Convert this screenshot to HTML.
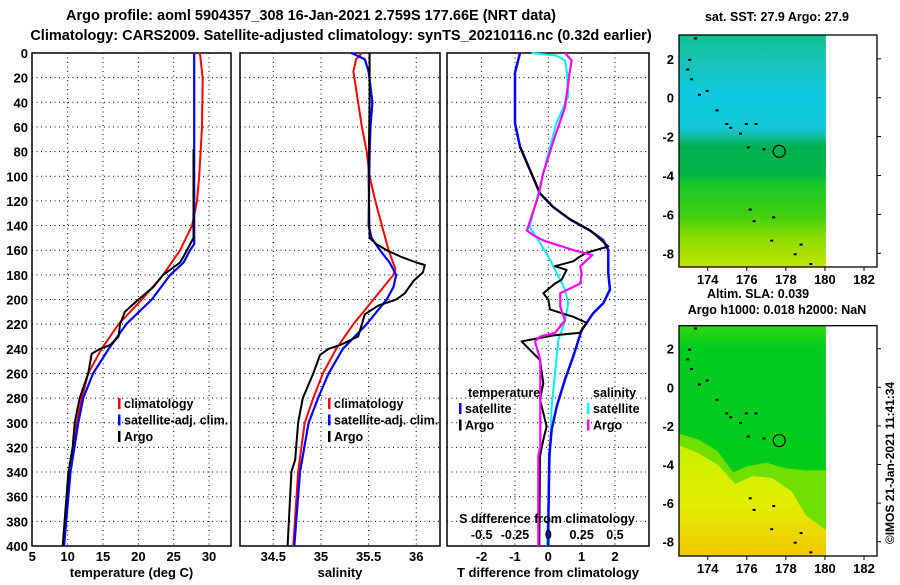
<!DOCTYPE html>
<html><head><meta charset="utf-8">
<style>
body{margin:0;background:#fff;}
svg text{font-family:"Liberation Sans",sans-serif;font-weight:bold;fill:#000;}
</style></head>
<body>
<svg id="c" width="900" height="580" viewBox="0 0 900 580" xmlns="http://www.w3.org/2000/svg">
<defs>
<linearGradient id="sstGrad" x1="0" y1="0" x2="0" y2="1">
<stop offset="0" stop-color="#10c090"/><stop offset="0.12" stop-color="#18c4b8"/>
<stop offset="0.25" stop-color="#10c8e0"/><stop offset="0.4" stop-color="#10c8d8"/>
<stop offset="0.44" stop-color="#10bc98"/><stop offset="0.48" stop-color="#00b050"/>
<stop offset="0.6" stop-color="#00b448"/><stop offset="0.64" stop-color="#18c828"/>
<stop offset="0.78" stop-color="#40d010"/><stop offset="0.88" stop-color="#90dc00"/>
<stop offset="1" stop-color="#c0e400"/></linearGradient>
<linearGradient id="slaGrad" x1="0" y1="0" x2="0" y2="1">
<stop offset="0" stop-color="#30d810"/><stop offset="0.1" stop-color="#00cc20"/>
<stop offset="1" stop-color="#00cc18"/></linearGradient>
<linearGradient id="yelGrad" x1="0" y1="0" x2="0" y2="1">
<stop offset="0" stop-color="#c8f000"/><stop offset="0.5" stop-color="#e0f000"/>
<stop offset="1" stop-color="#f4c800"/></linearGradient>
</defs>
<g id="layer"></g>
</svg>
<script>
// ---- data (depth in dbar) ----
const tDepthRed=[0,20,60,100,120,140,160,180,200,220,240,260,280,300,340,400];
const tRed=[28.7,29.1,29.0,28.6,28.3,27.6,25.9,23.5,20.5,17.2,14.8,12.9,12.0,11.3,10.3,9.4];
const tDepthBlue=[0,150,155,160,170,180,200,220,240,260,280,300,340,400];
const tBlue=[27.9,27.9,27.9,27.3,26.4,24.5,21.9,18.3,15.8,13.6,12.2,11.5,10.4,9.5];
const tDepthArgo=[78,150,165,170,180,190,200,210,220,230,237,240,244,260,280,300,320,340,400];
const tArgo=[27.8,27.8,26.4,25.9,23.5,22.1,20.0,18.1,17.4,17.2,16.0,14.6,13.4,12.9,11.7,11.0,10.7,10.1,9.3];

const sDepthRed=[0,5,15,30,60,80,100,120,140,160,175,180,200,220,240,260,280,300,340,400];
const sRed=[35.43,35.37,35.34,35.37,35.43,35.48,35.51,35.57,35.64,35.71,35.78,35.76,35.55,35.34,35.16,35.02,34.92,34.83,34.76,34.71];
const sDepthBlue=[0,5,15,40,60,80,140,150,160,170,180,190,200,220,240,260,280,300,340,400];
const sBlue=[35.32,35.46,35.50,35.54,35.52,35.51,35.50,35.53,35.62,35.72,35.79,35.76,35.69,35.48,35.23,35.08,34.97,34.87,34.78,34.72];
const sDepthArgo=[0,40,100,150,155,160,165,170,172,178,185,195,200,205,212,220,230,237,240,245,260,280,300,330,340,370,400];
const sArgo=[35.51,35.51,35.50,35.51,35.58,35.69,35.83,36.0,36.09,36.07,35.97,35.88,35.79,35.6,35.46,35.43,35.39,35.2,35.08,34.99,34.92,34.81,34.76,34.73,34.69,34.67,34.65];

const dDepthTSat=[0,16,57,76,95,114,125,135,144,152,160,179,192,203,211,225,246,265,287,306,327,384,400];
const dTSat=[-0.85,-1.0,-1.0,-0.85,-0.55,-0.25,0.15,0.65,1.25,1.65,1.8,1.8,1.85,1.65,1.35,1.0,0.75,0.5,0.25,0.1,0.03,0.0,0.0];
const dDepthTArgo=[76,95,114,125,135,144,146,157,162,166,169,173,176,184,187,195,200,208,214,219,227,229,234,241,249,268,281,303,314,327,400];
const dTArgo=[-0.85,-0.55,-0.25,0.15,0.65,1.25,1.35,1.8,1.15,0.9,0.75,0.2,0.55,0.4,0.2,-0.15,0,0.05,0.75,1.15,0.95,0.2,-0.8,-0.55,-0.25,-0.15,-0.25,-0.05,-0.15,-0.25,-0.27];
const dDepthSSat=[0,2,6,16,35,57,98,114,141,152,165,192,203,217,233,260,287,400];
const dSSat=[-0.125,0.06,0.125,0.14,0.15,0.06,-0.04,-0.075,-0.14,-0.075,0,0.125,0.15,0.125,0.075,0.05,0.025,-0.01];
const dDepthSArgo=[0,6,16,44,71,98,114,144,148,152,160,164,173,179,187,195,206,217,227,230,234,249,287,319,327,400];
const dSArgo=[0.125,0.175,0.16,0.125,0.04,-0.04,-0.07,-0.16,-0.11,-0.04,0.19,0.33,0.24,0.25,0.24,0.09,0.09,0.125,0.05,-0.06,-0.1,-0.06,-0.06,-0.06,-0.075,-0.075];

const depthTicks=[0,20,40,60,80,100,120,140,160,180,200,220,240,260,280,300,320,340,360,380,400];
const tempTicks=[5,10,15,20,25,30];
const salTicks=[34.5,35,35.5,36];
const dtTicks=[-2,-1,0,1,2];
const dsTicks=[-0.5,-0.25,0,0.25,0.5];
const dsTickLabels=["-0.5","-0.25","0","0.25","0.5"];
const latTicks=[2,0,-2,-4,-6,-8];
const lonTicks=[174,176,178,180,182];
const argoLon=177.66, argoLat=-2.759;

// ---- scales ----
const yD=d=>53+d*1.2325;
const xT=t=>32.3+(t-5)*7.07;
const xS=s=>273.3+(s-34.5)*95.3;
const xDT=t=>548.3+t*33.33;
const xDS=s=>548.3+s*133.3;
const NS="http://www.w3.org/2000/svg";
const L=document.getElementById('layer');
function mk(tag,attrs,parent){const e=document.createElementNS(NS,tag);for(const k in attrs)e.setAttribute(k,attrs[k]);(parent||L).appendChild(e);return e;}
function txt(s,x,y,size,anchor,parent){const e=mk('text',{x:x,y:y,'font-size':size,'text-anchor':anchor||'middle'},parent);e.textContent=s;return e;}

let e;
e=txt("Argo profile: aoml 5904357_308 16-Jan-2021 2.759S 177.66E (NRT data)",311,20,14.5);


e=txt("Climatology: CARS2009. Satellite-adjusted climatology: synTS_20210116.nc (0.32d earlier)",341,40,14.5);



function panel(name,x0,x1,xs,vt,labels,ly,title){
  const g=mk('g',{});
  
  
  depthTicks.forEach(d=>{ if(d>0&&d<400) mk('line',{x1:x0,x2:x1,y1:yD(d),y2:yD(d),stroke:'#000','stroke-width':1,'stroke-dasharray':'1,3.5'},g);});
  vt.forEach(v=>{const x=xs(v); if(x>x0+2&&x<x1-2) mk('line',{x1:x,x2:x,y1:yD(0),y2:yD(400),stroke:'#000','stroke-width':1,'stroke-dasharray':'1,3.5'},g);});
  mk('rect',{x:x0,y:yD(0),width:x1-x0,height:yD(400)-yD(0),fill:'none',stroke:'#000','stroke-width':1.5},g);
  vt.forEach((v,i)=>{const t=txt(labels[i],xs(v),ly,13,'middle',g);});
  const tt=txt(title,(x0+x1)/2,ly+16,13,'middle',g);
  
  
  return g;
}
function line(g,xs,vals,depths,color,w,name){
  const p=mk('polyline',{points:vals.map((v,i)=>xs(v).toFixed(1)+','+yD(depths[i]).toFixed(1)).join(' '),fill:'none',stroke:color,'stroke-width':w,'stroke-linejoin':'round'},g);
  
  
}
function legend(g,x,y,items){
  items.forEach((it,i)=>{
    const r=mk('rect',{x:x,y:y+i*16.5-10,width:2.5,height:11,fill:it[1]},g);
    
    
    const t=txt(it[0],x+6,y+i*16.5,12.5,'start',g);
    
    
  });
}

depthTicks.forEach(d=>{const t=txt(String(d),28,yD(d)+5,13,'end');});

const p1=panel('temperature-panel',32,231,xT,tempTicks,tempTicks.map(String),561,'temperature (deg C)');
line(p1,xT,tRed,tDepthRed,'#ff0000',2,'climatology-temp-line');
line(p1,xT,tBlue,tDepthBlue,'#0000ff',2.2,'satellite-temp-line');
line(p1,xT,tArgo,tDepthArgo,'#000',2,'argo-temp-line');
legend(p1,118,408,[['climatology','#f00'],['satellite-adj. clim.','#00f'],['Argo','#000']]);

const p2=panel('salinity-panel',240,440,xS,salTicks,salTicks.map(String),561,'salinity');
line(p2,xS,sRed,sDepthRed,'#ff0000',2,'climatology-sal-line');
line(p2,xS,sBlue,sDepthBlue,'#0000ff',2.2,'satellite-sal-line');
line(p2,xS,sArgo,sDepthArgo,'#000',2,'argo-sal-line');
legend(p2,328,408,[['climatology','#f00'],['satellite-adj. clim.','#00f'],['Argo','#000']]);

const p3=panel('difference-panel',447,649,xDT,dtTicks,dtTicks.map(String),561,'T difference from climatology');
line(p3,xDS,dSSat,dDepthSSat,'#00f0f0',2,'satellite-sal-diff-line');
line(p3,xDT,dTSat,dDepthTSat,'#0000ff',2.5,'satellite-temp-diff-line');
line(p3,xDT,dTArgo,dDepthTArgo,'#000',2,'argo-temp-diff-line');
line(p3,xDS,dSArgo,dDepthSArgo,'#ff00ff',2.2,'argo-sal-diff-line');
e=txt('temperature',468,397,12.5,'start',p3);


e=txt('salinity',593,397,12.5,'start',p3);


legend(p3,459,413,[['satellite','#00f'],['Argo','#000']]);
legend(p3,587,413,[['satellite','#0ff'],['Argo','#f0f']]);
e=txt('S difference from climatology',547,523,12.5,'middle',p3);


dsTicks.forEach((v,i)=>{const t=txt(dsTickLabels[i],xDS(v),539,12.5,'middle',p3);});

// ---- maps ----
const mapX0=679,mapX1=877;
const xLon=lon=>707.7+(lon-174)*19.54;
function map(name,top,bottom,lat0y,scale,grad,title,titleY,overlays){
  const g=mk('g',{});
  
  
  const yLat=l=>lat0y-l*scale;
  const fx1=xLon(180.05);
  const f=mk('rect',{x:mapX0,y:top,width:fx1-mapX0,height:bottom-top,fill:'url(#'+grad+')'},g);
  
  
  (overlays||[]).forEach(ov=>{
    const pts=ov.pts.map(p=>Math.max(mapX0,Math.min(fx1,xLon(p[0]))).toFixed(1)+','+Math.min(bottom,yLat(p[1])).toFixed(1));
    pts.push(fx1.toFixed(1)+','+bottom,mapX0+','+bottom);
    const o=mk('polygon',{points:pts.join(' '),fill:ov.fill},g);
    
    
  });
  [[173,2],[172.9,1.5],[173.1,1.0],[173.5,0.2],[173.9,0.4],[174.4,-0.6],[174.9,-1.3],[175.1,-1.5],[175.9,-1.3],[176.4,-1.3],[175.6,-1.8],[176,-2.5],[176.8,-2.6],[176.1,-5.7],[176.3,-6.3],[177.3,-6.1],[177.2,-7.3],[178.4,-8],[178.7,-7.5],[179.2,-8.5],[173.3,3.1]].forEach(p=>{
    mk('rect',{x:xLon(p[0]),y:yLat(p[1]),width:3,height:2,fill:'#000'},g);
  });
  mk('rect',{x:mapX0,y:top,width:mapX1-mapX0,height:bottom-top,fill:'none',stroke:'#000','stroke-width':1.3},g);
  latTicks.forEach(l=>{const t=txt(String(l),674,yLat(l)+5,13,'end',g);
    mk('line',{x1:mapX1,x2:mapX1+4,y1:yLat(l),y2:yLat(l),stroke:'#000'},g);});
  lonTicks.forEach(l=>{const t=txt(String(l),xLon(l),bottom+17,13,'middle',g);
    mk('line',{x1:xLon(l),x2:xLon(l),y1:bottom,y2:bottom+4,stroke:'#000'},g);});
  const c=mk('circle',{cx:xLon(argoLon),cy:yLat(argoLat),r:6,fill:'none',stroke:'#000','stroke-width':1.2},g);
  
  
  const t=txt(title,777,titleY,12.5,'middle',g);
  
  
}
map('sst-map',35,267,97.7,19.45,'sstGrad','sat. SST: 27.9 Argo: 27.9',21,[]);
map('sla-map',325.7,556,387.3,19.3,'slaGrad','Argo h1000: 0.018 h2000: NaN',314,[
  {fill:'#70e000',pts:[[172,-2.4],[173.5,-2.7],[174.5,-3.3],[175.3,-4.4],[176,-4.1],[177,-3.9],[178,-4.2],[179,-4.3],[181,-4.3]]},
  {fill:'url(#yelGrad)',pts:[[172,-3.0],[173.5,-3.4],[174.5,-4.0],[175.4,-5.0],[176.3,-4.6],[177.3,-4.7],[178.3,-5.4],[179,-6.6],[180.2,-7.4]]}
]);
e=txt('Altim. SLA: 0.039',758,298,12.5,'middle');


e=txt('©IMOS 21-Jan-2021 11:41:34',0,0,12,'middle');
e.setAttribute('transform','translate(894,463) rotate(-90)');
e.setAttribute('font-weight','normal');


</script>
</body></html>
